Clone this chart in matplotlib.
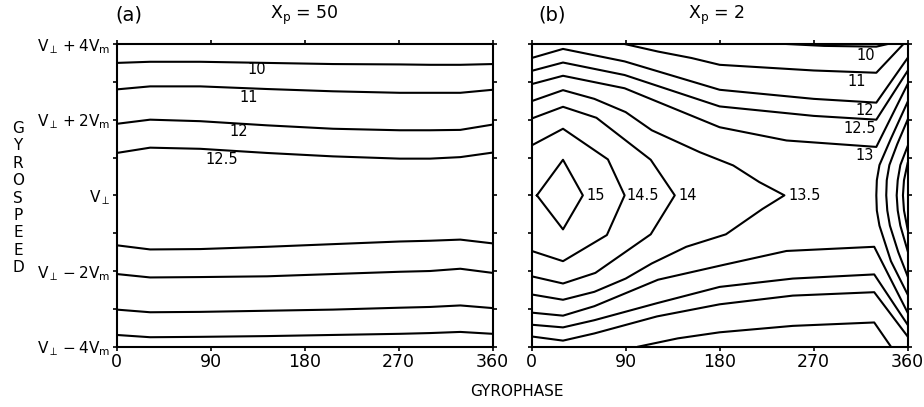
import matplotlib.pyplot as plt

plt.rcParams['font.family'] = 'DejaVu Sans'
plt.rcParams['mathtext.fontset'] = 'dejavusans'

# Axis ticks and labels
phase_ticks = [0, 90, 180, 270, 360]
phase_labels = ["0", "90", "180", "270", "360"]
speed_ticks = [-4, -3, -2, -1, 0, 1, 2, 3, 4]
speed_labels = [r"$\mathrm{V_{\perp}-4V_m}$", "", r"$\mathrm{V_{\perp}-2V_m}$", "",
                r"$\mathrm{V_{\perp}}$", "", r"$\mathrm{V_{\perp}+2V_m}$", "",
                r"$\mathrm{V_{\perp}+4V_m}$"]

# Panel (a), Xp = 50: contour lines (gyrophase in deg, gyrospeed in Vm)
a_phase = [0, 32, 80, 144, 207, 271, 300, 329, 360]
a_10_top = [3.50, 3.53, 3.53, 3.50, 3.47, 3.46, 3.45, 3.45, 3.47]
a_11_top = [2.80, 2.88, 2.88, 2.81, 2.75, 2.71, 2.71, 2.71, 2.79]
a_12_top = [1.89, 2.00, 1.96, 1.85, 1.76, 1.72, 1.72, 1.73, 1.87]
a_125_top = [1.12, 1.26, 1.23, 1.12, 1.03, 0.97, 0.97, 1.01, 1.13]
a_125_bot = [-1.32, -1.43, -1.42, -1.36, -1.29, -1.22, -1.20, -1.17, -1.27]
a_12_bot = [-2.08, -2.17, -2.16, -2.14, -2.08, -2.02, -2.00, -1.94, -2.05]
a_11_bot = [-3.02, -3.09, -3.08, -3.05, -3.02, -2.97, -2.95, -2.91, -2.98]
a_10_bot = [-3.69, -3.75, -3.74, -3.72, -3.69, -3.66, -3.64, -3.61, -3.66]
a_label_text = ["10", "11", "12", "12.5"]
a_label_phase = [134, 126, 116.5, 100.5]
a_label_speed = [3.32, 2.58, 1.69, 0.94]

# Panel (b), Xp = 2: contour lines
b_10_phase = [244, 280, 330, 341]
b_10_speed = [4.0, 3.95, 3.93, 4.0]
b_11_phase = [89, 121, 153, 180, 270, 330, 356]
b_11_speed = [4.0, 3.80, 3.63, 3.45, 3.30, 3.24, 4.0]
b_12_phase = [0, 30, 89, 180, 270, 330, 360]
b_12_speed = [3.63, 3.87, 3.54, 2.79, 2.55, 2.45, 3.63]
b_125_phase = [0, 30, 89, 180, 270, 330, 360]
b_125_speed = [3.29, 3.51, 3.18, 2.35, 2.10, 2.00, 3.29]
b_13_phase = [0, 30, 89, 180, 244, 330, 360]
b_13_speed = [2.94, 3.16, 2.83, 1.80, 1.45, 1.28, 2.94]
b_135_phase = [0, 30, 60, 90, 115, 161, 193, 218, 242, 221, 186, 148, 115, 90, 60, 30, 0]
b_135_speed = [2.49, 2.78, 2.55, 2.20, 1.72, 1.14, 0.79, 0.35, 0.0, -0.36, -1.03,
               -1.36, -1.80, -2.20, -2.55, -2.76, -2.62]
b_14_phase = [0, 30, 62, 114, 137, 114, 61, 30, 0]
b_14_speed = [2.03, 2.34, 2.05, 0.94, 0.0, -1.03, -2.05, -2.33, -2.14]
b_145_phase = [0, 30, 73, 89, 72, 30, 0]
b_145_speed = [1.32, 1.76, 0.95, 0.0, -1.05, -1.74, -1.47]
b_15_phase = [5, 30, 49, 30, 5]
b_15_speed = [0.0, 0.94, 0.0, -0.90, 0.0]
b_13b_phase = [0, 30, 60, 121, 185, 244, 328, 360]
b_13b_speed = [-3.10, -3.18, -2.93, -2.23, -1.83, -1.47, -1.36, -3.10]
b_125b_phase = [0, 30, 60, 120, 180, 250, 328, 360]
b_125b_speed = [-3.42, -3.49, -3.30, -2.85, -2.42, -2.20, -2.09, -3.42]
b_12b_phase = [0, 30, 60, 120, 180, 250, 328, 360]
b_12b_speed = [-3.73, -3.84, -3.65, -3.20, -2.88, -2.65, -2.56, -3.73]
b_11b_phase = [102, 140, 180, 250, 328, 344]
b_11b_speed = [-4.0, -3.78, -3.62, -3.45, -3.36, -4.0]
# arcs near 360 deg
b_arc135_phase = [360, 344, 333, 330.5, 330, 330.5, 333, 344, 360]
b_arc135_speed = [2.47, 1.5, 0.8, 0.4, 0.0, -0.4, -0.8, -1.74, -2.62]
b_arc14_phase = [360, 350, 342.5, 340, 339.5, 340.5, 343, 351, 360]
b_arc14_speed = [2.0, 1.35, 0.8, 0.4, 0.0, -0.4, -0.8, -1.5, -2.14]
b_arc145_phase = [360, 353, 350.5, 349.5, 350.5, 353, 360]
b_arc145_speed = [1.3, 0.8, 0.4, 0.0, -0.4, -0.8, -1.47]
b_arc15_phase = [360, 356.5, 355.5, 356.5, 360]
b_arc15_speed = [0.85, 0.4, 0.0, -0.4, -0.9]
b_label_text = ["10", "11", "12", "12.5", "13"]
b_label_phase = [320, 311, 318.6, 314, 318.6]
b_label_speed = [3.69, 3.0, 2.25, 1.76, 1.05]
b_tip_text = ["15", "14.5", "14", "13.5"]
b_tip_phase = [52, 91, 141, 246]

LW = 1.5


def style_axes(ax, ylabels):
    ax.set_xlim(0, 360)
    ax.set_ylim(-4, 4)
    ax.set_xticks(phase_ticks)
    ax.set_xticklabels(phase_labels, fontsize=12.5)
    ax.set_yticks(speed_ticks)
    ax.set_yticklabels(speed_labels if ylabels else [], fontsize=11)
    ax.tick_params(direction='out', length=3, width=1.2, top=True, right=True,
                   pad=1.5)
    for s in ax.spines.values():
        s.set_linewidth(1.5)


fig = plt.figure(figsize=(9.24, 4.07), dpi=100)
ax_a = fig.add_axes([0.1263, 0.1482, 0.4069, 0.7437])
ax_b = fig.add_axes([0.5754, 0.1482, 0.4069, 0.7437])
style_axes(ax_a, True)
style_axes(ax_b, False)

# Panel (a)
for sp in [a_10_top, a_11_top, a_12_top, a_125_top,
           a_125_bot, a_12_bot, a_11_bot, a_10_bot]:
    ax_a.plot(a_phase, sp, color='black', lw=LW)
for t, x, y in zip(a_label_text, a_label_phase, a_label_speed):
    ax_a.text(x, y, t, ha='center', va='center', fontsize=10.5)

# Panel (b)
b_lines = [(b_10_phase, b_10_speed), (b_11_phase, b_11_speed),
           (b_12_phase, b_12_speed), (b_125_phase, b_125_speed),
           (b_13_phase, b_13_speed), (b_135_phase, b_135_speed),
           (b_14_phase, b_14_speed), (b_145_phase, b_145_speed),
           (b_15_phase, b_15_speed), (b_13b_phase, b_13b_speed),
           (b_125b_phase, b_125b_speed), (b_12b_phase, b_12b_speed),
           (b_11b_phase, b_11b_speed), (b_arc135_phase, b_arc135_speed),
           (b_arc14_phase, b_arc14_speed), (b_arc145_phase, b_arc145_speed),
           (b_arc15_phase, b_arc15_speed)]
for ph, sp in b_lines:
    ax_b.plot(ph, sp, color='black', lw=LW)
for t, x, y in zip(b_label_text, b_label_phase, b_label_speed):
    ax_b.text(x, y, t, ha='center', va='center', fontsize=10.5)
for t, x in zip(b_tip_text, b_tip_phase):
    ax_b.text(x, 0, t, ha='left', va='center', fontsize=10.5)

# Titles and axis names
fig.text(0.1396, 0.963, "(a)", ha='center', va='center', fontsize=14)
fig.text(0.329, 0.963, r"$\mathrm{X_p}$ = 50", ha='center', va='center', fontsize=12.5)
fig.text(0.597, 0.963, "(b)", ha='center', va='center', fontsize=14)
fig.text(0.776, 0.963, r"$\mathrm{X_p}$ = 2", ha='center', va='center', fontsize=12.5)
fig.text(0.0195, 0.5135, "\n".join("GYROSPEED"), ha='center', va='center',
         fontsize=11, linespacing=1.2)
fig.text(0.5595, 0.037, "GYROPHASE", ha='center', va='center', fontsize=11)

fig.savefig("out.png", dpi=100)
